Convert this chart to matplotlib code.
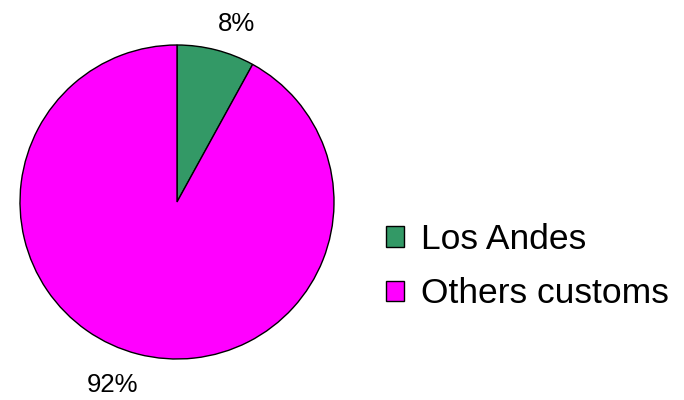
import matplotlib.pyplot as plt

# datos del gráfico
categories = ['Los Andes', 'Others customs']
shares = [8, 92]
colors = ['#339966', '#FF00FF']

plt.rcParams['font.family'] = ['Liberation Sans', 'DejaVu Sans']

fig = plt.figure(figsize=(6.84, 4.0), dpi=100)
# eje del pastel: centro (177, 202) px, radio 157 px
ax = fig.add_axes([20 / 684, 41 / 400, 314 / 684, 314 / 400])

wedges, texts, autotexts = ax.pie(
    shares, colors=colors, startangle=90, counterclock=False,
    autopct='%1.0f%%', pctdistance=1.2,
    wedgeprops={'edgecolor': 'black', 'linewidth': 1.0},
    textprops={'fontsize': 18.5, 'color': 'black'})
# etiquetas de porcentaje algo desplazadas como en el original
autotexts[0].set_position((0.376, 1.135))
autotexts[1].set_position((-0.414, -1.166))
ax.set_xlim(-1, 1)
ax.set_ylim(-1, 1)
ax.set_aspect('equal')

fig.legend(wedges, categories, loc='upper left',
           bbox_to_anchor=(386 / 684, 1 - 223 / 400),
           frameon=False, fontsize=25.5, handlelength=0.5, handleheight=0.5,
           handletextpad=0.5, labelspacing=0.6, borderpad=0, borderaxespad=0)

fig.savefig('out.png', dpi=100)
